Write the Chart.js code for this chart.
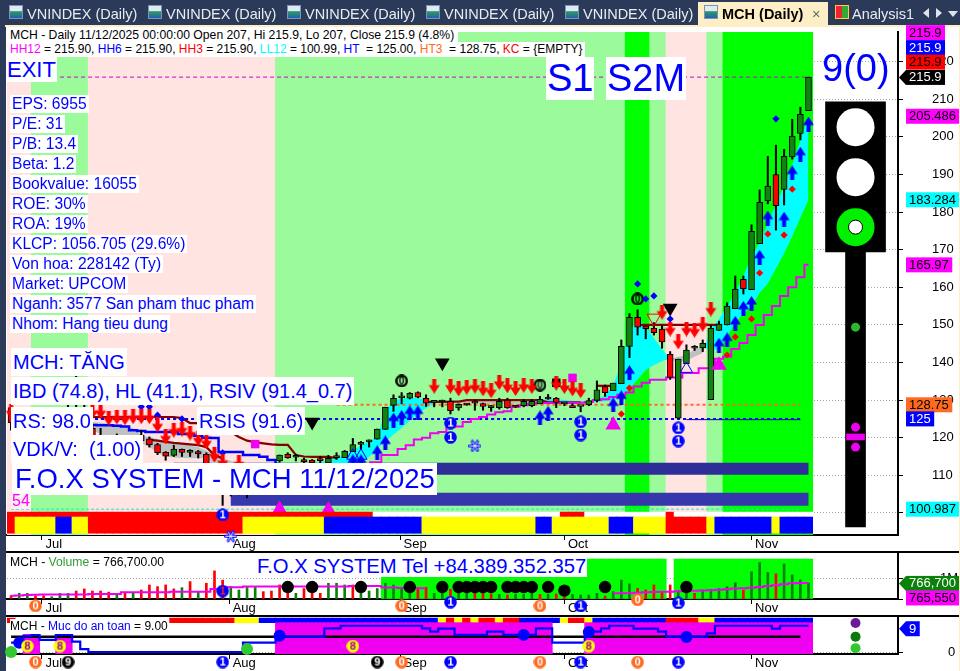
<!DOCTYPE html>
<html>
<head>
<meta charset="utf-8">
<title>MCH (Daily)</title>
<script src="https://cdn.jsdelivr.net/npm/chart.js@4"></script>
<style>
html, body { margin: 0; padding: 0; background: #2b3a58; overflow: hidden; }
body { width: 960px; height: 671px; position: relative; font-family: "Liberation Sans", Arial, sans-serif; }
#sheet { position: absolute; left: 6px; top: 25px; width: 953px; height: 646px; background: #fff; }
#cream { position: absolute; left: 5px; top: 25px; width: 955px; height: 2px; background: #fdeec5; }
#creamRight { position: absolute; left: 959px; top: 25px; width: 1px; height: 646px; background: #fdeec5; }
canvas { position: absolute; left: 0; }
#priceChart { top: 0; }
#volumeChart { top: 552px; }
#safetyChart { top: 616px; }
.sep { position: absolute; left: 6px; width: 953px; height: 2px; background: #000; }
.tab { position: absolute; top: 5px; color: #e8ecf2; font-size: 14.5px; line-height: 18px; white-space: nowrap; }
.ico { position: absolute; top: 5px; width: 14px; height: 14px; background: linear-gradient(#dfeaf8 45%, #2e9c5a 46%, #1f5fb8); border: 1px solid #7f93b5; box-sizing: border-box; }
#activeTab { position: absolute; left: 698px; top: 2px; width: 130px; height: 24px; background: #fdeec5; }
.tri { position: absolute; width: 0; height: 0; }
.box { position: absolute; background: #fff; color: #0000ff; white-space: nowrap; }
.s { font-size: 15.6px; line-height: 18px; padding: 0 2px; left: 10px; }
.m { font-size: 20px; line-height: 28px; padding: 0 2px; left: 11px; }
.plain { position: absolute; white-space: nowrap; color: #000; }
</style>
</head>
<body>
<div id="sheet"></div>
<div id="cream"></div>
<canvas id="priceChart" width="960" height="552"></canvas>
<canvas id="volumeChart" width="960" height="64"></canvas>
<canvas id="safetyChart" width="960" height="55"></canvas>
<div id="creamRight"></div>
<div class="sep" style="top:551px"></div>
<div class="sep" style="top:615px"></div>

<!-- tab strip -->
<div id="activeTab"></div>
<div class="ico" style="left:9px"></div><div class="tab" style="left:27px">VNINDEX (Daily)</div>
<div class="ico" style="left:148px"></div><div class="tab" style="left:166px">VNINDEX (Daily)</div>
<div class="ico" style="left:287px"></div><div class="tab" style="left:305px">VNINDEX (Daily)</div>
<div class="ico" style="left:426px"></div><div class="tab" style="left:444px">VNINDEX (Daily)</div>
<div class="ico" style="left:565px"></div><div class="tab" style="left:583px">VNINDEX (Daily)</div>
<div class="ico" style="left:704px"></div><div class="tab" style="left:722px;color:#000;font-weight:bold">MCH (Daily)</div>
<div class="tab" style="left:812px;color:#666">×</div>
<div class="ico" style="left:835px;background:linear-gradient(90deg,#e23 50%,#3a3 50%);border-color:#fc3"></div><div class="tab" style="left:852px">Analysis1</div>
<div class="tri" style="left:923px;top:8px;border:5px solid transparent;border-left:0;border-right:6px solid #dfe4ec"></div>
<div class="tri" style="left:936px;top:8px;border:5px solid transparent;border-right:0;border-left:6px solid #dfe4ec"></div>
<div class="tri" style="left:948px;top:11px;border:5px solid transparent;border-bottom:0;border-top:6px solid #dfe4ec"></div>

<!-- title lines -->
<div class="box" style="left:7px;top:27px;width:451px;height:15px;color:#000;font-size:12.2px;line-height:16px;padding-left:3px;box-sizing:border-box">MCH - Daily 11/12/2025 00:00:00 Open 207, Hi 215.9, Lo 207, Close 215.9 (4.8%)</div>
<div class="box" style="left:7px;top:42px;width:578px;height:15px;color:#000;font-size:12px;line-height:15px;padding-left:3px;box-sizing:border-box"><span style="color:#f0f">HH12</span> = 215.90, <span style="color:#00f">HH6</span> = 215.90, <span style="color:#f00">HH3</span> = 215.90, <span style="color:#0ff">LL12</span> = 100.99, <span style="color:#00f">HT</span> &nbsp;= 125.00, <span style="color:#ff6a20">HT3</span> &nbsp;= 128.75, <span style="color:#f00">KC</span> = {EMPTY}</div>

<!-- overlay notes -->
<div class="box" style="left:7px;top:57px;font-size:22px;line-height:25px;height:25px;padding:0;width:50px">EXIT</div>
<div class="box s" style="top:95px">EPS: 6955</div>
<div class="box s" style="top:115px">P/E: 31</div>
<div class="box s" style="top:135px">P/B: 13.4</div>
<div class="box s" style="top:155px">Beta: 1.2</div>
<div class="box s" style="top:175px">Bookvalue: 16055</div>
<div class="box s" style="top:195px">ROE: 30%</div>
<div class="box s" style="top:215px">ROA: 19%</div>
<div class="box s" style="top:235px">KLCP: 1056.705 (29.6%)</div>
<div class="box s" style="top:255px">Von hoa: 228142 (Ty)</div>
<div class="box s" style="top:275px">Market: UPCOM</div>
<div class="box s" style="top:295px">Nganh: 3577 San pham thuc pham</div>
<div class="box s" style="top:315px">Nhom: Hang tieu dung</div>
<div class="box m" style="top:348px">MCH: TĂNG</div>
<div class="box m" style="top:377px">IBD (74.8), HL (41.1), RSIV (91.4_0.7)</div>
<div class="box m" style="top:407px">RS: 98.0</div>
<div class="box m" style="top:407px;left:197px">RSIS (91.6)</div>
<div class="box m" style="top:435px">VDK/V: &nbsp;(1.00)</div>
<div class="box" style="left:12px;top:463px;font-size:27.5px;line-height:32px;height:32px;padding:0 2px 0 3px">F.O.X SYSTEM - MCH 11/12/2025</div>
<div class="box" style="left:11px;top:493px;font-size:16px;line-height:16px;color:#f0f;background:#fff0f0;padding:0 1px">54</div>
<div class="box" style="left:546px;top:57px;font-size:38px;line-height:43px;padding:0 1px">S1</div>
<div class="box" style="left:606px;top:57px;font-size:38px;line-height:43px;padding:0 1px">S2M</div>
<div class="plain" style="left:822px;top:46px;font-size:38px;line-height:44px;color:#0000ff">9(0)</div>
<div class="box" style="left:256px;top:555px;height:22px;font-size:20.3px;line-height:22px;padding:0 1px">F.O.X SYSTEM Tel +84.389.352.357</div>
<div class="plain" style="left:10px;top:555px;font-size:12.2px;line-height:14px">MCH - <span style="color:#2e9b2e">Volume</span> = 766,700.00</div>
<div class="box" style="left:10px;top:619px;height:15px;width:158px;color:#000;font-size:12px;line-height:15px">MCH - <span style="color:#00f">Muc do an toan</span> = 9.00</div>

<script>
// x axis
const monthTicks = [3.8, 26.8, 47.8, 68, 91];
const monthLabels = ['Jul', 'Aug', 'Sep', 'Oct', 'Nov'];

// price pane ticks
const priceTicks = [100, 110, 120, 130, 140, 150, 160, 170, 180, 190, 200, 210, 220];

// daily candles, bar 0 is the leftmost
const opens = [128,124,122,123,122,120,123,126,125,128,122.5,120,119,118,120,118.5,120.7,119.7,118.2,116.1,115.3,116.9,116.1,116.3,115.6,111,108,105,106,105,107,109,110,113.8,115.6,114.8,114.2,114,114.2,113.3,114.7,114.7,116.3,118.2,118.9,119.6,122.2,128.6,130.6,130.5,132,130.5,129.4,129.5,129.7,127.9,128.8,129.3,129.1,128,128,130,128.3,128.5,128.5,129,130.4,130.5,129,128.4,128.3,128.8,129.9,133.6,132.5,134.4,144.3,152,149.7,149.1,148.9,142.2,125.2,139.7,143.8,143.9,130.1,148.5,150,154.3,162.1,159.4,171.6,183,190,186,194.7,200.9,207];
const highs = [128.5,125,124,126,123,124,127,129,136.5,129,123.5,122.5,120,121,120.5,120,122,120.2,118.5,116.3,118,117,116.8,116.6,116,112,110,108,107,107.5,109.5,110.5,112.5,115.4,116,115.6,114.6,114.2,115,115.3,116,116.6,119.8,119,119.4,122.3,128.1,131.4,132,132,132.2,131.4,129.7,130,130.5,129,129,130,129.2,128.6,130.5,130.5,128.5,130.2,130.2,131,131.5,130.7,129.3,129,128.3,130.5,135.1,134,134.5,146,153,154,149.9,150.6,149.9,142.9,140.9,144.7,144.5,146,149.9,151,155.9,163,163,176.6,185.9,194.8,197.8,196.7,204.7,207.9,215.9];
const lows = [122,121,120,121,119,119,122,124,124,122,119.5,118.5,117,117.5,118,117,119,117.5,115.5,114,115,115,115,114.6,110,107,102,104.5,104.8,104,106,108,109.5,113.5,114.5,113.8,112.8,113,112.8,113,114.2,114.7,116.3,117,117.5,119.6,122.2,127,129,130.3,130.6,128.3,128.2,128.2,126.3,127.3,128.6,127.3,127.3,127,127.6,127.8,128,128.2,128.2,129,130.2,128,128.5,128,126.9,128.5,129.5,131,132.5,134.4,141.3,147.3,146.3,147.3,143.8,135.5,125,139.7,143.2,142.9,130.1,148.5,150,154.3,158.2,159.4,171.6,182.2,175.2,181.9,194.1,199.2,207];
const closes = [124,122,123,122,120,123,126,125,128,123,120,119,118,120,118.5,119,119.2,118.1,116,115.1,117,116.1,116.1,115.7,111,108,105,106,105,107,109,110,112,115.4,114.7,114.8,113.6,113.3,113.9,114.5,114.7,116.4,118.2,118.8,119.3,122.3,128.1,130.5,130.6,131.8,130.8,129.2,129.4,129.5,127.2,128.9,128.7,129.2,128.3,128,129.7,128,128.1,129.7,129.7,130.2,130.3,129.4,129,128,128.3,129.9,132.7,132,134.5,144.3,152,149.4,149,147.9,145.5,136,140.9,143.3,143.8,145.1,149.1,150.2,155,159.5,159.6,174.9,182.6,186.9,181.7,194.8,200.2,206,215.9];

// two moving averages that make the cyan / grey ribbon
const fastAvg = [122,121.5,121,120.8,120.5,120.3,120.5,121,121.8,122,122,121,120,119.7,119.5,119,118.5,117.5,116,115,114.7,114.6,114.5,114.5,114.5,113,111,110,109.5,109.3,109.5,110,110.5,111,111.5,112,112.5,113,113.5,114,114.5,115.5,116.5,118,119,120.2,127,130,130.3,130.7,130.5,130,129.5,129.3,129.2,129.1,129.2,129.2,129.1,129,129,129,129,129.5,129.7,130,130.3,130.2,130,129.8,129.6,129.5,130.2,131.2,133.8,140,148,152,149.5,146.5,143.5,141,140,140.5,141.5,142.5,149,151.5,155,158.5,163,168,172,177,182,187,192.5,199,205.486];
const slowAvg = [125.5,125.3,125,124.8,124.8,124.6,124.5,124.4,124.4,124.3,124.2,124,123.8,123.5,123.2,122.5,120.5,120.2,119.6,119.2,118.8,118.5,118,117.5,116.5,115.5,114.5,113.8,113.3,113,112.8,112.6,112.5,112.5,112.5,112.5,112.5,112.6,112.7,112.8,112.9,113,113,113.5,114.8,117,119,120.8,122.5,124.5,126.3,127.8,129,129.4,129.6,129.7,129.8,129.8,129.8,129.7,129.6,129.6,129.5,129.2,129,129,129,129,129,129,129,129.2,129.4,129.7,130,131,133,135.5,138,139.3,140.3,141,141.5,142,143.5,144.3,143,143.8,147,150.5,153,155,158.5,161,165,169,173.5,178.5,183.284];

// step and trend lines: first bar, then values
const stopLineStart = 44;
const stopLine = [113.5,113.5,115.4,115.4,117,118,119.5,120,121.2,121.5,122.8,123,124.2,125,125.5,126.2,126.8,127,128.2,128.6,129,129.2,129.2,129.3,129.3,129.3,129.3,129.5,130,130.2,130.8,131.4,132,133.6,134.6,135.4,135.4,136,136,137.2,137.2,138.5,138.5,141,141.5,143.6,145.2,147.3,150,152.6,155,157.7,160,162.7,165.97];
const blueStep = [125,125,124.5,124,124,124,123.6,123.6,123.4,123.4,123.4,123.3,123.3,123.2,123,122,121.8,121.5,121.5,121.5,121.5,121,121,120.5,120,119.9,116.2,116.2,116.2,115.4,115.4,114.9,114.1,113];
const brownAStart = 10;
const brownA = [125.5,125.5,125.5,125.5,125.5,125.5,125.5,125.5,125.5,125.5,125.5,125.2,123.9,123.9,123.5,123,122.5,121.5,120.2,119.2,118.8,118.5,118.2,118.1,118.1,115.4,115,114.9,114.9,114.9,114.6];
const brownBStart = 17;
const brownB = [119.4,119.2,118.9,118.6,118.4,118.2,118,117.5,115.4,114.5];
const brownCStart = 51;
const brownC = [129.5,129.5,129.5,129.6,129.6,130,130,130,130,130,130,130,130,130,130,129.4,129.4,129.4,129.4,129.4];
const brownDStart = 72;
const brownD = [133.8,133.8,133.8];
const brownEStart = 77;
const brownE = [150,150,150,150,150,150,150,150,150,150,150];

// horizontal levels
const hh12Level = 215.9, ht3Level = 128.75, htLevel = 125, ll12Level = 100.987;

// long dark blue ribbons
const ribbonA = 111.75, ribbonB = 103.6;

// background zones: last bar of each zone and its kind
const zoneLast = [2, 9, 32, 75, 78, 80, 85, 87, 98];
const zoneKind = ['pink', 'pale', 'pink', 'pale', 'lime', 'pale', 'pink', 'pale', 'lime'];

// colour rows under the price pane
const stripeLast = [0, 5, 7, 9, 28, 38, 50, 64, 66, 73, 76, 80, 85, 86, 93, 94, 98];
const stripeKind = ['R', 'Y', 'B', 'Y', 'R', 'Y', 'B', 'Y', 'B', 'Y', 'B', 'Y', 'R', 'Y', 'B', 'Y', 'B'];
const topRowBars = [0,1,2,3,4,5,6,7,8,9,10,11,12,13,14,15,16,17,18,19,20,21,22,23,24,25,26,27,28,29,30,31,32,33,34,35,36,37,38,39,40,41,42,43,44,68,69,70,81];

// markers in the price pane
const upArrowBars = [42,43,45,46,47,48,49,50,65,66,74,75,76,87,88,89,90,91,92,93,95,96,97,98];
const upArrowPrices = [113.6,113.6,116,118.6,124.7,125.4,126.6,126.6,125.3,126.5,128.7,130.6,137.3,144.6,146,150.4,154.4,155.7,168,178.4,178.1,190.4,195.4,203.4];
const downArrowBars = [0,10,11,12,13,14,15,16,17,18,19,20,21,22,23,24,25,26,28,52,54,55,56,57,58,59,60,61,62,63,64,67,68,69,70,80,81,82,83,84,85,86];
const downArrowPrices = [126.9,126.9,126.9,125.2,125.5,125.3,125.6,125.6,125.6,123.4,120.2,122,122.3,121.2,119.7,118.9,115.4,113.6,113.3,133.7,133.7,133,133.4,133.7,133,132.5,134.7,133.8,133.1,133.9,133.6,134.5,133.6,133,132.5,153.4,148.9,145.5,148.9,148.6,150.2,154.2];
const redDotBars = [75,76,88,89,91,92,93,95,96];
const redDotPrices = [126.3,133.2,142,146.8,151.6,163.8,174.2,173.9,186.1];
const blueDotBars = [16,17,18,21,26,77,78,79,81,94];
const blueDotPrices = [128.2,128.2,126,125,116,160.9,156.9,157.7,151.6,204.8];
const pinkTriBars = [33,39,74,87];
const pinkTriPrices = [101,100.8,123.4,139.3];
const hollowBlueTriBars = [42,43,83];
const hollowBlueTriPrices = [115.2,115.2,138.3];
const hollowRedTriBars = [79];
const hollowRedTriPrices = [151.8];
const blackTriBars = [37,53,81];
const blackTriPrices = [124.2,139.9,154.5];
const pinkSquareBars = [30,69];
const pinkSquarePrices = [118.3,135.9];
const blackSquareBars = [67];
const blackSquarePrices = [134.6];
const ringZeroBars = [48,65,77];
const ringZeroPrices = [135.1,134,156.9];
const blueOneBars = [26,54,54,70,70,82,82];
const blueOnePrices = [99.5,123.9,120.1,124.2,120.7,122.6,119.1];
const flakeBars = [57,27];
const flakePrices = [117.8,93.8];

// traffic light column
const lightBar = 103.78;
const lightHead = [209.3, 169.4];
const lightPole = [169.4, 96.25];
const lightLamps = [202.6, 189.3];
const lightGo = 176;
const lightSmall = 149.4;
const lightPinks = [122.8, 117.5];
const lightBarLevel = [121, 119.4];

// tags on the right
const priceTagTexts = ['215.9', '215.9', '215.9', '215.9', '205.486', '183.284', '165.97', '128.75', '125', '100.987'];
const priceTagValues = [215.9, 215.9, 215.9, 215.9, 205.486, 183.284, 165.97, 128.75, 125, 100.987];

// volume pane, thousands of shares
const volumes = [160,270,270,160,160,110,270,270,380,480,380,380,330,270,330,270,430,670,590,670,480,540,830,350,750,1340,900,590,430,590,590,350,380,670,300,270,500,400,270,750,750,670,670,500,380,500,750,670,560,380,560,560,270,300,460,270,270,270,270,240,220,190,220,220,270,220,220,240,110,220,190,190,270,140,350,900,720,510,430,670,350,670,400,350,270,430,460,510,590,780,430,1300,1740,1260,1200,1670,1150,910,766.7];
const volumeRedBars = [0,3,4,8,9,10,11,12,14,16,17,18,19,20,22,24,25,26,31,32,33,34,36,37,38,42,50,51,54,57,58,59,61,65,67,68,73,77,78,79,80,81,84,90,94];
const volumeAvgStart = 0;
const volumeAvg = [160,170,190,200,220,220,220,220,220,220,240,240,240,240,320,320,320,320,320,320,350,350,350,350,350,480,480,560,560,590,590,590,590,590,590,590,590,590,590,590,590,590,620,620,620,620,550,550,520,510,510,510];
const volumeAvgLateStart = 74;
const volumeAvgLate = [270,270,280,300,320,330,340,350,370,380,390,400,420,440,470,500,510,540,570,620,660,700,750,760,765.55];
const volumeZoneBars = [46,80,82,98];
const volumeTicks = [0, 1000];
const blackDotBars = [34,37,43,49,53,55,56,57,58,59,61,62,63,64,66,68,73,83];
const blackDotVolumes = [570,570,570,570,570,570,570,570,570,570,570,570,570,570,570,400,570,570];
const volOrangeBars = [3,48,65,77];
const volOrangeVolumes = [-330,-330,-330,-40];
const volBlueBars = [54,70,82];
const volBlueVolumes = [-150,-330,-190];
const volRedOneBars = [26];
const volRedOneVolumes = [380];

// safety pane
const safetyLevel = [3.3,3.3,5.5,5.9,4.2,4.2,5.9,5.9,3.6,1.1,0.1,0.1,0.1,0.1,0.1,0.1,0.1,0.1,0.1,0.1,0.1,0.1,0.1,0.1,0.1,0.1,0.1,0.1,0.1,3.3,3.3,3.3,3.3,5.6,5.3,5.3,5.3,5.3,5.3,8.1,8.1,9,9,9,9,9,9,9,9,9,9,8.1,7,8,8,5.9,5.9,5.9,5.9,7,7,5.9,5.9,5.9,5.9,8.1,8.1,3.3,3.3,3.3,3.3,7,7,8.1,9,9,9,8,8,8,7,5.3,5.3,5.3,5.3,5.3,6.4,9,9,9,9,9,9,9,8,9,9,9,9];
const safetyMid = 5.3;
const safetyTicks = [0];
const safetyZones = [[2,3,6.5],[6,7,6.5],[33,66,10.03],[71,98,10.03]];
const safetyStripeLast = [0, 19, 27, 30, 52, 53, 54, 55, 56, 57, 59, 60, 62, 67, 68, 70, 71, 80, 84, 86, 98];
const safetyStripeKind = ['R', null, 'R', 'Y', 'B', 'Y', 'R', 'Y', 'R', 'Y', 'R', 'Y', 'R', 'B', 'Y', 'R', 'Y', 'B', 'R', 'Y', 'B'];
const eightBars = [2,6,42,71];
const eightLevels = [2.1,2.1,2.1,2.1];
const safetyBlueBars = [1,33,63,71,83];
const safetyBlueLevels = [3.2,5.6,5.9,6.9,5.2];
const safetyGreenBars = [0,29];
const safetyGreenLevels = [0.1,1.1];
const lowZeroBars = [3,48,65,77];
const lowOneBars = [26,54,70,82];
const lowNineBars = [7,45];
const lowMarkLevel = -3.3;
const sideDotLevels = [9.9, 5.3, 1.4];

const BAR_W = 8.4;
const ICON_R = 30; // image points ignore the radius, a big one keeps them drawn outside the plot area
const swatch = { pink: '#ffe4e1', pale: '#9bfb9b', lime: '#00ff00', R: '#ff0000', Y: '#ffff00', B: '#0000ff' };
const candleGreen = '#128212';

const at = (start, vals) => vals.map((y, k) => ({ x: start + k, y }));
const pairs = (xs, ys) => xs.map((x, k) => ({ x, y: ys[k] }));
const level = (y, a, b) => [{ x: a, y }, { x: b, y }];
const kinds = (last, kind, n) => {
    const out = [];
    let j = 0;
    for (let i = 0; i < n; i++) {
        if (i > last[j]) j++;
        out.push(kind[j]);
    }
    return out;
};

// little drawn markers used as point styles
const icon = (size, draw) => {
    const c = document.createElement('canvas');
    c.width = size;
    c.height = size;
    draw(c.getContext('2d'), size);
    return c;
};
const arrow = (color, up) => icon(15, (g, s) => {
    if (!up) { g.translate(0, s); g.scale(1, -1); }
    g.fillStyle = color;
    g.beginPath();
    g.moveTo(7.5, 0); g.lineTo(13, 8.5); g.lineTo(9.5, 8.5); g.lineTo(9.5, 15);
    g.lineTo(5.5, 15); g.lineTo(5.5, 8.5); g.lineTo(2, 8.5);
    g.closePath();
    g.fill();
});
const disc = (fill, ink, digit) => icon(13, (g, s) => {
    g.fillStyle = fill;
    g.beginPath(); g.arc(s / 2, s / 2, 6.3, 0, 7); g.fill();
    g.fillStyle = ink;
    g.font = 'bold 11px "Liberation Sans"';
    g.textAlign = 'center';
    g.textBaseline = 'middle';
    g.fillText(digit, s / 2, s / 2 + 0.5);
});
const ring = icon(13, (g, s) => {
    g.strokeStyle = '#000';
    g.lineWidth = 2.4;
    g.beginPath(); g.arc(s / 2, s / 2, 5.2, 0, 7); g.stroke();
    g.fillStyle = '#000';
    g.font = 'bold 10px "Liberation Sans"';
    g.textAlign = 'center';
    g.textBaseline = 'middle';
    g.fillText('0', s / 2, s / 2 + 0.5);
});
const flake = icon(13, (g, s) => {
    g.lineCap = 'round';
    [[3, '#0000ff'], [1, '#ffffff']].forEach(([w, col]) => {
        g.strokeStyle = col;
        g.lineWidth = w;
        [0, 60, 120].forEach(a => {
            const r = a * Math.PI / 180;
            g.beginPath();
            g.moveTo(s / 2 - 5 * Math.cos(r), s / 2 - 5 * Math.sin(r));
            g.lineTo(s / 2 + 5 * Math.cos(r), s / 2 + 5 * Math.sin(r));
            g.stroke();
        });
    });
});

// dataset builders, lower order draws on top
const mark = (xs, ys, style, r, fill, extra) => Object.assign({
    type: 'scatter',
    data: pairs(xs, ys),
    pointStyle: style,
    pointRadius: r,
    backgroundColor: fill,
    borderColor: fill,
    borderWidth: 0,
    clip: false,
    order: 2
}, extra);
const line = (data, color, width, extra) => Object.assign({
    type: 'line',
    data,
    borderColor: color,
    borderWidth: width,
    pointRadius: 0,
    fill: false,
    tension: 0,
    order: 20
}, extra);
const floats = (data, colors, width, extra) => Object.assign({
    type: 'bar',
    data,
    backgroundColor: colors,
    barThickness: width,
    grouped: false,
    borderWidth: 0,
    borderSkipped: false,
    order: 90
}, extra);

const xAxis = () => ({
    type: 'linear',
    offset: false,
    min: -0.5,
    max: 109,
    afterBuildTicks: s => { s.ticks = monthTicks.map(value => ({ value })); },
    afterFit: s => { s.height = 17; },
    border: { color: '#000', width: 2 },
    grid: { offset: false, drawOnChartArea: false, tickColor: '#000', tickLength: 5 },
    ticks: {
        align: 'start',
        padding: -3,
        labelOffset: 3.5,
        autoSkip: false,
        maxRotation: 0,
        color: '#000',
        font: { family: 'Liberation Sans', size: 13 },
        callback: (v, i) => monthLabels[i]
    }
});
const yAxis = (min, max, values, pad, label) => ({
    position: 'right',
    min,
    max,
    afterBuildTicks: s => { s.ticks = values.map(value => ({ value })); },
    // the big tick padding must not eat into the chart area
    afterFit: s => { s.width = 62; s.paddingTop = 0; s.paddingBottom = 0; },
    border: { color: '#000', width: 2, dash: [1, 2] },
    grid: { color: '#a8a8a8', tickColor: '#000', tickLength: 5, tickBorderDash: [] },
    ticks: {
        padding: pad,
        color: '#000',
        autoSkip: false,
        font: { family: 'Liberation Sans', size: 13 },
        callback: label
    }
});

// value tags right of the axis, nudge keeps stacked tags from hiding each other
const tagsPlugin = list => ({
    id: 'tags',
    afterDraw(chart) {
        const g = chart.ctx;
        const y = chart.scales.y;
        g.save();
        g.font = '13px "Liberation Sans"';
        g.textBaseline = 'middle';
        list.forEach(t => {
            const py = y.getPixelForValue(t.value) + t.nudge;
            const w = g.measureText(t.text).width + 6.5;
            g.fillStyle = t.bg;
            g.fillRect(906, py - 7.5, w, 15);
            if (t.pointer) {
                g.beginPath();
                g.moveTo(899, py); g.lineTo(906, py - 7.5); g.lineTo(906, py + 7.5);
                g.closePath();
                g.fill();
            }
            g.fillStyle = t.fg;
            g.fillText(t.text, 909, py + 0.5);
        });
        g.restore();
    }
});

const base = (scales, top) => ({
    responsive: false,
    animation: false,
    devicePixelRatio: 1,
    events: [],
    layout: { autoPadding: false, padding: { left: 7, top, right: 0, bottom: 0 } },
    plugins: { legend: { display: false }, tooltip: { enabled: false } },
    scales
});

// price pane
const priceMin = 94.12, priceMax = 227.9;
const zoneByBar = kinds(zoneLast, zoneKind, closes.length);
const stripeByBar = kinds(stripeLast, stripeKind, closes.length);
const upDown = closes.map((c, i) => (c >= opens[i] ? candleGreen : '#ff0000'));

const tagStyle = [
    { bg: '#ff00ff', fg: '#000', nudge: -44.5 },
    { bg: '#0000ff', fg: '#fff', nudge: -29.5 },
    { bg: '#ff0000', fg: '#000', nudge: -15 },
    { bg: '#000000', fg: '#fff', nudge: 0.3, pointer: true },
    { bg: '#ff00ff', fg: '#000', nudge: 0 },
    { bg: '#00ffff', fg: '#000', nudge: 0 },
    { bg: '#ff00ff', fg: '#000', nudge: 0 },
    { bg: '#ff6a20', fg: '#000', nudge: 0 },
    { bg: '#0000ff', fg: '#fff', nudge: 0 },
    { bg: '#00ffff', fg: '#000', nudge: 0 }
];

new Chart(document.getElementById('priceChart'), {
    type: 'bar',
    data: {
        datasets: [
            // background zones and colour rows
            floats(closes.map((_, i) => ({ x: i, y: [priceMin, priceMax] })), zoneByBar.map(k => swatch[k]), BAR_W, { order: 100 }),
            floats(closes.map((_, i) => ({ x: i, y: [94.6, 98.9] })), stripeByBar.map(k => swatch[k]), BAR_W, { order: 10 }),
            floats(closes.map((_, i) => ({ x: i, y: [98.9, 100.2] })), closes.map((_, i) => (topRowBars.includes(i) ? '#ff0000' : '#ffffff')), BAR_W, { order: 10 }),

            // dark ribbons
            line(level(ribbonA, 20, 98), '#2e2e99', 12, { order: 80, borderCapStyle: 'butt' }),
            line(level(ribbonB, 27, 98), '#3636ad', 13, { order: 80, borderCapStyle: 'butt' }),

            // cyan and grey ribbon
            line(at(0, fastAvg), 'rgba(0,0,0,0)', 0, { order: 70, fill: { target: '+1', above: '#00ffff', below: '#c0c0c0' } }),
            line(at(0, slowAvg), 'rgba(0,0,0,0)', 0, { order: 70 }),

            // level lines
            line(level(hh12Level, 0, 98), '#d000d0', 1, { borderDash: [4, 3], order: 60 }),
            line(level(ht3Level, 40, 97), '#ff6a20', 2, { borderDash: [3, 3], order: 60 }),
            line(level(htLevel, 0, 97), '#0000ff', 2, { borderDash: [3, 3], order: 60 }),
            line(level(htLevel - 0.2, 83, 97), '#101080', 1, { order: 60 }),
            line(level(ll12Level, 0, 97), '#20e0e0', 1, { borderDash: [3, 2], order: 60 }),

            // trend lines
            line(at(stopLineStart, stopLine), '#f000f0', 2, { stepped: 'middle', order: 50 }),
            line(at(0, blueStep), '#0000ff', 2.5, { stepped: 'middle', order: 50 }),
            line(at(brownAStart, brownA), '#860000', 2.2, { order: 50 }),
            line(at(brownBStart, brownB), '#860000', 2.2, { order: 50 }),
            line(at(brownCStart, brownC), '#860000', 2.2, { order: 50 }),
            line(at(brownDStart, brownD), '#860000', 2.2, { order: 50 }),
            line(at(brownEStart, brownE), '#860000', 2.2, { order: 50 }),

            // candles
            floats(closes.map((_, i) => ({ x: i, y: [lows[i], highs[i]] })), '#000', 1.4, { order: 40 }),
            floats(closes.map((c, i) => ({ x: i, y: [opens[i], c] })), upDown, 6, { order: 39, borderColor: '#000', borderWidth: 1, minBarLength: 2 }),

            // markers
            mark(pinkTriBars, pinkTriPrices, 'triangle', 9, '#f000f0', { order: 30 }),
            mark(pinkSquareBars, pinkSquarePrices, 'rect', 6, '#f000f0', { order: 30 }),
            mark(blackSquareBars, blackSquarePrices, 'rect', 6, '#000', { order: 30 }),
            mark(upArrowBars, upArrowPrices, arrow('#0000ff', true), ICON_R, '#0000ff'),
            mark(downArrowBars, downArrowPrices, arrow('#ff0000', false), ICON_R, '#ff0000'),
            mark(redDotBars, redDotPrices, 'rectRot', 3.6, '#ff0000'),
            mark(blueDotBars, blueDotPrices, 'rectRot', 3.6, '#0000ff'),
            mark(hollowBlueTriBars, hollowBlueTriPrices, 'triangle', 7, 'rgba(0,0,0,0)', { borderColor: '#0000ff', borderWidth: 1 }),
            mark(hollowRedTriBars, hollowRedTriPrices, 'triangle', 8, 'rgba(0,0,0,0)', { borderColor: '#ff0000', borderWidth: 1, rotation: 180 }),
            mark(blackTriBars, blackTriPrices, 'triangle', 8.5, '#000', { rotation: 180 }),
            mark(ringZeroBars, ringZeroPrices, ring, ICON_R, '#000'),
            mark(blueOneBars, blueOnePrices, disc('#0000ff', '#fff', '1'), ICON_R, '#0000ff'),
            mark(flakeBars, flakePrices, flake, ICON_R, '#0000ff'),

            // traffic light
            floats([{ x: lightBar, y: lightHead }], '#000', 60, { order: 35 }),
            floats([{ x: lightBar, y: lightPole }], '#000', 20, { order: 35 }),
            floats([{ x: lightBar, y: lightBarLevel }], '#f000f0', 18, { order: 3 }),
            mark(lightLamps.map(() => lightBar), lightLamps, 'circle', 19, '#fff', { order: 4 }),
            mark([lightBar], [lightGo], 'circle', 19, '#00f000', { order: 4 }),
            mark([lightBar], [lightGo], 'circle', 7, '#fff', { order: 3, borderColor: '#000', borderWidth: 1 }),
            mark([lightBar], [lightSmall], 'circle', 4.5, '#2eb82e', { order: 3 }),
            mark(lightPinks.map(() => lightBar), lightPinks, 'circle', 4.5, '#f000f0', { order: 3 })
        ]
    },
    options: base({
        x: xAxis(),
        y: yAxis(priceMin, priceMax, priceTicks, 29, v => v)
    }, 32),
    plugins: [tagsPlugin(priceTagTexts.map((text, k) => Object.assign({ text, value: priceTagValues[k] }, tagStyle[k])))]
});

// volume pane
const volumeBars = (from, to) => closes.map((_, i) => i).filter(i => i >= from && i <= to);
const volumeZones = volumeBars(volumeZoneBars[0], volumeZoneBars[1]).concat(volumeBars(volumeZoneBars[2], volumeZoneBars[3]));

new Chart(document.getElementById('volumeChart'), {
    type: 'bar',
    data: {
        datasets: [
            floats(volumeZones.map(x => ({ x, y: [0, 1904] })), '#00ff00', BAR_W, { order: 100 }),
            floats(volumes.map((v, i) => ({ x: i, y: [0, v] })), volumes.map((_, i) => (volumeRedBars.includes(i) ? '#ff0000' : '#0a820a')), 2, { order: 40 }),
            line(at(volumeAvgStart, volumeAvg), '#f000f0', 2, { stepped: 'middle', order: 30 }),
            line(at(volumeAvgLateStart, volumeAvgLate), '#f000f0', 2, { stepped: 'middle', order: 30 }),
            mark(blackDotBars, blackDotVolumes, 'circle', 6.2, '#000', { order: 5 }),
            mark(volOrangeBars, volOrangeVolumes, disc('#ff6a20', '#fff', '0'), ICON_R, '#ff6a20'),
            mark(volBlueBars, volBlueVolumes, disc('#0000ff', '#fff', '1'), ICON_R, '#0000ff'),
            mark(volRedOneBars, volRedOneVolumes, disc('#0000ff', '#ff2020', '1'), ICON_R, '#0000ff')
        ]
    },
    options: base({
        x: xAxis(),
        y: yAxis(0, 2240, volumeTicks, 37, v => (v === 1000 ? '1M' : ''))
    }, 0),
    plugins: [tagsPlugin([
        { text: '766,700', value: volumes[98], bg: '#0a820a', fg: '#fff', nudge: 0.5, pointer: true },
        { text: '765,550', value: volumeAvgLate[24], bg: '#ff00ff', fg: '#000', nudge: 15 }
    ])]
});

// safety pane
const safetyMin = -0.58, safetyMax = 12.3;
const safetyZoneData = safetyZones.flatMap(([from, to, top]) => volumeBars(from, to).map(x => ({ x, y: [safetyMin, top] })));
const safetyStripeByBar = kinds(safetyStripeLast, safetyStripeKind, closes.length);
const safetyStripeData = closes.map((_, x) => ({ x, y: [10.03, 11.6] })).filter((_, i) => safetyStripeByBar[i]);
const safetyStripeColors = safetyStripeByBar.filter(k => k).map(k => swatch[k]);

new Chart(document.getElementById('safetyChart'), {
    type: 'bar',
    data: {
        datasets: [
            floats(safetyZoneData, '#f000f0', BAR_W, { order: 100 }),
            floats(safetyStripeData, safetyStripeColors, BAR_W, { order: 100 }),
            line(level(safetyMid, 0, 97), '#000', 2.5, { order: 50 }),
            line(at(0, safetyLevel), '#0000ff', 2.2, { stepped: 'middle', order: 40 }),
            mark(safetyBlueBars, safetyBlueLevels, 'circle', 6, '#0000ff', { order: 10 }),
            mark(safetyGreenBars, safetyGreenLevels, 'circle', 6, '#32c832', { order: 10 }),
            mark(eightBars, eightLevels, disc('#ffff00', '#a000a0', '8'), ICON_R, '#ffff00'),
            mark(lowZeroBars, lowZeroBars.map(() => lowMarkLevel), disc('#ff6a20', '#fff', '0'), ICON_R, '#ff6a20'),
            mark(lowOneBars, lowOneBars.map(() => lowMarkLevel), disc('#0000ff', '#fff', '1'), ICON_R, '#0000ff'),
            mark(lowNineBars, lowNineBars.map(() => lowMarkLevel), disc('#000', '#fff', '9'), ICON_R, '#000'),
            mark([lightBar], [sideDotLevels[0]], 'circle', 5, '#6a1b9a'),
            mark([lightBar], [sideDotLevels[1]], 'circle', 5, '#0a7a0a'),
            mark([lightBar], [sideDotLevels[2]], 'circle', 5, '#32c832')
        ]
    },
    options: base({
        x: xAxis(),
        y: yAxis(safetyMin, safetyMax, safetyTicks, 45, v => v)
    }, 0),
    plugins: [tagsPlugin([
        { text: '9', value: 9, bg: '#0000ff', fg: '#fff', nudge: 3, pointer: true }
    ])]
});
</script>
</body>
</html>
